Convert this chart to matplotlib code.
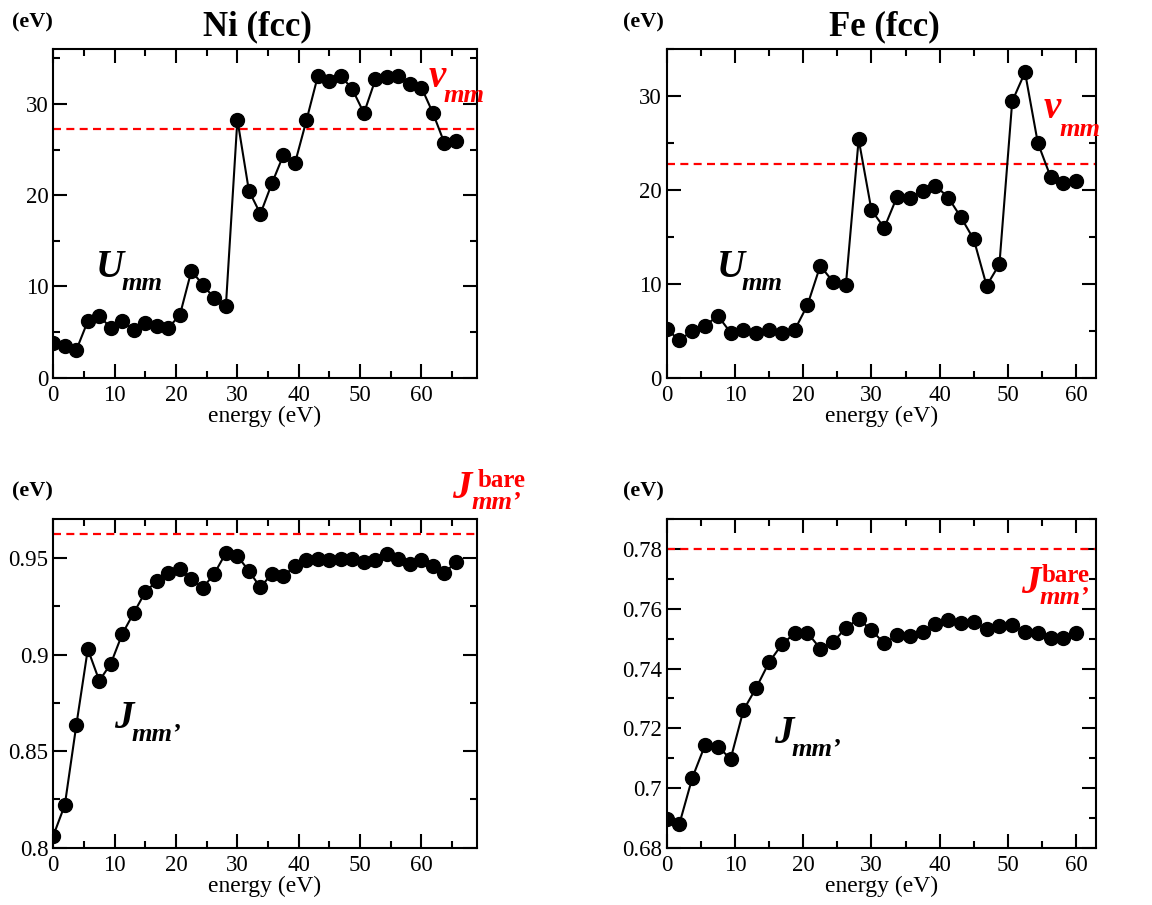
import numpy as np
import matplotlib
matplotlib.use("Agg")
import matplotlib.pyplot as plt
from matplotlib.ticker import MultipleLocator, FuncFormatter

plt.rcParams['font.family'] = ['Liberation Serif', 'DejaVu Serif']

# ---------------- data ----------------
step = 1.875
ni_U = [3.83, 3.47, 3.03, 6.2, 6.75, 5.47, 6.24, 5.22, 5.95, 5.66, 5.47, 6.86,
        11.7, 10.2, 8.69, 7.85, 28.3, 20.5, 17.96, 21.3, 24.4, 23.5, 28.2, 33.1,
        32.5, 33.1, 31.6, 29.0, 32.7, 33.0, 33.1, 32.2, 31.8, 29.0, 25.7, 25.9]
ni_v = 27.26
fe_U = [5.15, 4.01, 5.0, 5.54, 6.6, 4.79, 5.08, 4.79, 5.08, 4.79, 5.08, 7.74,
        11.93, 10.22, 9.87, 25.4, 17.86, 15.97, 19.28, 19.13, 19.92, 20.48, 19.2,
        17.08, 14.73, 9.8, 12.1, 29.46, 32.55, 25.03, 21.4, 20.77, 20.98]
fe_v = 22.75
ni_J = [0.8062, 0.8221, 0.8634, 0.9028, 0.8864, 0.8953, 0.9107, 0.9216, 0.9324,
        0.9381, 0.9424, 0.9445, 0.939, 0.9345, 0.9419, 0.9526, 0.951, 0.9433,
        0.9347, 0.9419, 0.9407, 0.9457, 0.9491, 0.9497, 0.9488, 0.9493, 0.9497,
        0.9479, 0.9488, 0.9522, 0.9497, 0.9471, 0.9491, 0.9457, 0.9422, 0.9479]
ni_Jbare = 0.9622
fe_J = [0.6896, 0.6881, 0.7034, 0.7144, 0.7138, 0.7098, 0.7261, 0.7336, 0.7421,
        0.7481, 0.7518, 0.752, 0.7467, 0.7488, 0.7537, 0.7566, 0.7529, 0.7484,
        0.7512, 0.7509, 0.7523, 0.7548, 0.7563, 0.7554, 0.7555, 0.7531, 0.7544,
        0.7546, 0.7523, 0.7518, 0.7501, 0.7501, 0.7518]
fe_Jbare = 0.78
ni_E = np.arange(len(ni_U)) * step
fe_E = np.arange(len(fe_U)) * step

W, H = 1152, 905
fig = plt.figure(figsize=(W / 100, H / 100), dpi=100)


def ax_at(l, t, r, b):
    return fig.add_axes([l / W, 1 - b / H, (r - l) / W, (b - t) / H])


def style(ax, xlim, ylim, ymaj, ymin):
    ax.set_xlim(*xlim)
    ax.set_ylim(*ylim)
    ax.xaxis.set_major_locator(MultipleLocator(10))
    ax.xaxis.set_minor_locator(MultipleLocator(5))
    ax.yaxis.set_major_locator(MultipleLocator(ymaj))
    ax.yaxis.set_minor_locator(MultipleLocator(ymin))
    ax.yaxis.set_major_formatter(FuncFormatter(lambda v, p: '%g' % round(v, 4)))
    ax.tick_params(which='both', direction='in', top=True, right=True,
                   width=1.5, labelsize=16.5, colors='black')
    ax.tick_params(which='major', length=10)
    ax.tick_params(axis='x', which='major', pad=5)
    ax.tick_params(axis='y', which='major', pad=3.5)
    ax.tick_params(which='minor', length=5)
    for s in ax.spines.values():
        s.set_linewidth(1.5)
    ax.set_xlabel('energy (eV)', fontsize=17, labelpad=0)


def series(ax, E, vals, ref):
    ax.plot(E, vals, '-', color='black', lw=1.5, marker='o', ms=10,
            markerfacecolor='black', markeredgecolor='black', zorder=3)
    ax.axhline(ref, color='red', lw=1.6, ls=(0, (3.6, 2.4)), zorder=2)


def ftxt(x, y, s, size, color='black', style='italic', weight='bold'):
    fig.text(x / W, 1 - y / H, s, fontsize=size, color=color, style=style,
             weight=weight, ha='left', va='baseline')


a1 = ax_at(53.3, 49.3, 476.7, 377.7)
series(a1, ni_E, ni_U, ni_v)
style(a1, (0, 69), (0, 36), 10, 5)

a2 = ax_at(666.7, 49.3, 1096, 377.7)
series(a2, fe_E, fe_U, fe_v)
style(a2, (0, 62.9), (0, 35), 10, 5)

a3 = ax_at(53.3, 519.3, 476.7, 847.7)
series(a3, ni_E, ni_J, ni_Jbare)
style(a3, (0, 69), (0.8, 0.97), 0.05, 0.025)

a4 = ax_at(666.7, 519.3, 1096, 847.7)
series(a4, fe_E, fe_J, fe_Jbare)
style(a4, (0, 62.9), (0.68, 0.79), 0.02, 0.01)

# titles and unit labels
fig.text(257 / W, 1 - 35 / H, 'Ni (fcc)', fontsize=25, weight='bold', ha='center', va='baseline')
fig.text(884 / W, 1 - 35 / H, 'Fe (fcc)', fontsize=25, weight='bold', ha='center', va='baseline')
for x, y in [(12, 27), (623, 27), (12, 496), (623, 496)]:
    ftxt(x, y, '(eV)', 16, style='normal')

# U_mm labels
ftxt(96, 277, 'U', 28)
ftxt(121, 290, 'mm', 19)
ftxt(717, 277, 'U', 28)
ftxt(742, 290, 'mm', 19)
# v_mm labels
ftxt(429, 87, 'v', 28, color='red')
ftxt(444, 102, 'mm', 19, color='red')
ftxt(1044, 118, 'v', 28, color='red')
ftxt(1059, 136, 'mm', 19, color='red')
# J_mm' labels
ftxt(114, 728, 'J', 28)
ftxt(132, 741, 'mm\u2019', 19)
ftxt(774, 743, 'J', 28)
ftxt(792, 756, 'mm\u2019', 19)
# J^bare labels
ftxt(452, 498, 'J', 28, color='red')
ftxt(478, 487, 'bare', 18, color='red', style='normal')
ftxt(472, 509, 'mm\u2019', 19, color='red')
ftxt(1021, 593, 'J', 28, color='red')
ftxt(1042, 582, 'bare', 18, color='red', style='normal')
ftxt(1039, 604, 'mm\u2019', 19, color='red')

fig.savefig('out.png', dpi=100)
